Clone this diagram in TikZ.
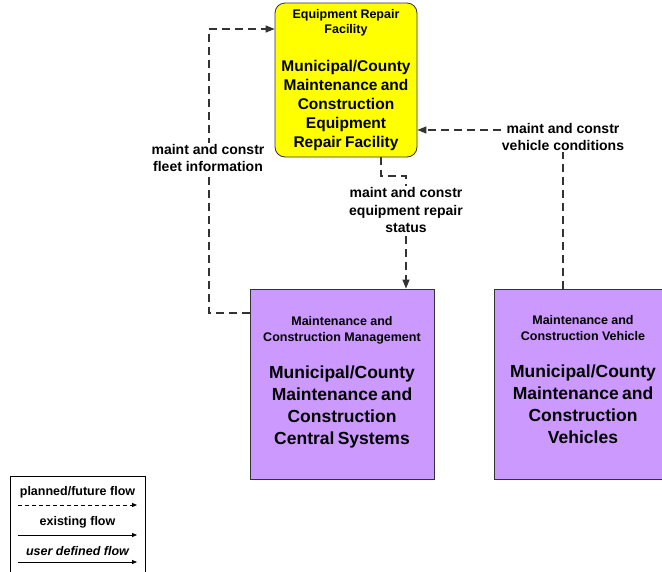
\documentclass[tikz,border=0pt]{standalone}
\usepackage{fontspec}
\setmainfont{Liberation Sans}
\usepackage{tikz}
\usetikzlibrary{arrows.meta}
\definecolor{repaircolor}{HTML}{FFFF00}
\definecolor{mccolor}{HTML}{CC99FF}
\definecolor{flowcolor}{HTML}{333333}
\newcommand{\hdrfont}{\fontsize{12.5}{15.5}\selectfont\bfseries}
\newcommand{\ttlfont}{\fontsize{15.5}{19}\selectfont\bfseries}
\newcommand{\bigttlfont}{\fontsize{17.5}{22}\selectfont\bfseries}

\begin{document}
\begin{tikzpicture}[
    x=1pt, y=-1pt,
    box/.style={rectangle, draw=black!80, line width=0.8pt, align=center, inner sep=0pt},
    lbl/.style={fill=white, align=center, inner sep=1pt, font=\fontsize{14}{17.5}\selectfont\bfseries},
    flow/.style={draw=flowcolor, line width=1.2pt, dash pattern=on 8pt off 5pt, -{Triangle[length=9pt, width=7pt]}},
    legtxt/.style={font=\fontsize{12.5}{15}\selectfont\bfseries, inner sep=0pt}
]
    \useasboundingbox (0,0) rectangle (662,571);

    % Equipment repair facility
    \node[box, fill=repaircolor, rounded corners=10pt, minimum width=142pt, minimum height=154pt, text width=140pt] (repair) at (346,80)
        {\hdrfont Equipment Repair\\Facility\par\vspace{19pt}
         \ttlfont Municipal/County\\Maintenance and\\Construction\\Equipment\\Repair Facility\par};

    % Maintenance and construction centers
    \node[box, fill=mccolor, minimum width=184pt, minimum height=190pt, text width=182pt] (mcm) at (342,384)
        {\hdrfont Maintenance and\\Construction Management\par\vspace{15pt}
         \bigttlfont Municipal/County\\Maintenance and\\Construction\\Central Systems\par\vspace{-5pt}\mbox{}};
    \node[box, fill=mccolor, minimum width=178pt, minimum height=190pt, text width=176pt] (mcv) at (583,384)
        {\hdrfont Maintenance and\\Construction Vehicle\par\vspace{15pt}
         \bigttlfont Municipal/County\\Maintenance and\\Construction\\Vehicles\par\vspace{-3pt}\mbox{}};

    % Flows
    \coordinate (fleetA) at (209,313);
    \coordinate (fleetB) at (209,29);
    \draw[flow] (mcm.west |- fleetA) -- (fleetA) -- (fleetB) -- (repair.west |- fleetB);

    \coordinate (statA) at (381,176);
    \coordinate (statB) at (406,176);
    \draw[flow] (repair.south -| statA) -- (statA) -- (statB) -- (mcm.north -| statB);

    \coordinate (vehA) at (563,130);
    \draw[flow] (mcv.north -| vehA) -- (vehA) -- (repair.east |- vehA);

    \node[lbl] (fleetlbl) at (208,158) {maint and constr\\fleet information};
    \node[lbl] (statlbl) at (406,210) {maint and constr\\equipment repair\\status};
    \node[lbl] (vehlbl) at (563,137) {maint and constr\\vehicle conditions};

    % Legend
    \node[draw=black, line width=0.8pt, minimum width=135pt, minimum height=110pt, inner sep=0pt] (legend) at (77.5,531) {};
    \node[legtxt] (planned) at (77.5,492) {planned/future flow};
    \node[legtxt] (existing) at (77.5,522) {existing flow};
    \node[legtxt, font=\fontsize{12.5}{15}\selectfont\bfseries\itshape] (userdef) at (77.5,551) {user defined flow};
    \coordinate (planA) at (18,505);
    \coordinate (planB) at (137,505);
    \coordinate (existA) at (18,535);
    \coordinate (existB) at (137,535);
    \coordinate (userA) at (18,562);
    \coordinate (userB) at (137,562);
    \draw[line width=0.8pt, dash pattern=on 4pt off 3pt, -{Triangle[length=5pt, width=4pt]}] (planA) -- (planB);
    \draw[line width=0.8pt, -{Triangle[length=5pt, width=4pt]}] (existA) -- (existB);
    \draw[line width=0.8pt, -{Triangle[length=5pt, width=4pt]}] (userA) -- (userB);
\end{tikzpicture}
\end{document}
